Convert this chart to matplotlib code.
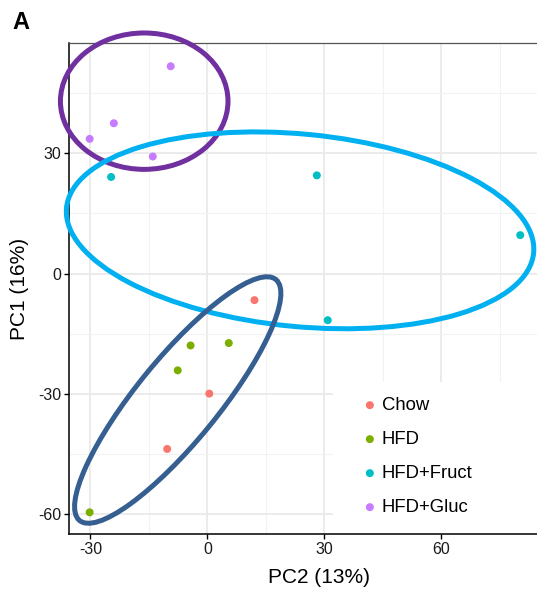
import numpy as np
import matplotlib
matplotlib.use("Agg")
import matplotlib.pyplot as plt
from matplotlib.patches import Ellipse, Rectangle
from matplotlib.ticker import MultipleLocator

plt.rcParams['font.family'] = ['Liberation Sans', 'DejaVu Sans']
plt.rcParams['axes.unicode_minus'] = False

# PCA scores
groups = ['Chow', 'HFD', 'HFD+Fruct', 'HFD+Gluc']
colors = ['#F8766D', '#7CAE00', '#00BFC4', '#C77CFF']

chow_pc2 = [12.1, 0.5, -10.3]
chow_pc1 = [-6.6, -29.9, -43.7]
hfd_pc2 = [-4.3, 5.5, -7.6, -30.2]
hfd_pc1 = [-17.9, -17.3, -24.1, -59.5]
fruct_pc2 = [-24.7, 28.1, 80.3, 30.9]
fruct_pc1 = [24.1, 24.5, 9.6, -11.6]
gluc_pc2 = [-9.4, -24.0, -30.2, -14.0]
gluc_pc1 = [51.7, 37.5, 33.6, 29.2]

# hand drawn cluster ellipses: centre x, centre y, half width, half height, angle
ell_centre_x = [-16.2, 23.8, -7.6]
ell_centre_y = [43.0, 10.8, -31.5]
ell_a = [21.5, 60.2, 39.2]
ell_b = [17.0, 24.0, 10.4]
ell_angle = [0, -5.3, 49.9]
ell_colors = ['#7030A0', '#00B0F0', '#365F91']

xs = [chow_pc2, hfd_pc2, fruct_pc2, gluc_pc2]
ys = [chow_pc1, hfd_pc1, fruct_pc1, gluc_pc1]

fig = plt.figure(figsize=(5.37, 5.94), dpi=100)
ax = fig.add_axes([69/537, 1 - 534/594, 1 - 69/537, (534 - 43)/594])

ax.set_xlim(-35.5, 84.6)
ax.set_ylim(-64.9, 57.5)
ax.xaxis.set_major_locator(MultipleLocator(30))
ax.yaxis.set_major_locator(MultipleLocator(30))
ax.xaxis.set_minor_locator(MultipleLocator(15))
ax.yaxis.set_minor_locator(MultipleLocator(15))
ax.grid(which='major', color='#EBEBEB', lw=1.4, zorder=0)
ax.grid(which='minor', color='#F2F2F2', lw=0.8, zorder=0)
ax.set_axisbelow(True)

ax.tick_params(which='major', direction='out', length=3.5, width=1, color='black',
               labelsize=11.5, labelcolor='#1a1a1a', pad=2)
ax.tick_params(which='minor', length=0)

for s in ['left', 'bottom']:
    ax.spines[s].set_color('black')
    ax.spines[s].set_linewidth(1.1)
ax.spines['top'].set_color('#555555')
ax.spines['top'].set_linewidth(0.9)
ax.spines['right'].set_visible(False)

# white legend background covering the grid
ax.add_patch(Rectangle((0.564, 0), 0.436, 0.3096, transform=ax.transAxes,
                       facecolor='white', edgecolor='none', zorder=1))

handles = []
for g, c, x, y in zip(groups, colors, xs, ys):
    h = ax.scatter(x, y, s=33, color=c, edgecolors='none', label=g, zorder=3)
    handles.append(h)

for cx, cy, a, b, ang, c in zip(ell_centre_x, ell_centre_y, ell_a, ell_b, ell_angle, ell_colors):
    ax.add_patch(Ellipse((cx, cy), 2*a, 2*b, angle=ang, fill=False,
                         edgecolor=c, lw=3.6, zorder=4, clip_on=False))

ax.legend(handles=handles, loc='upper left', bbox_to_anchor=(0.631, 0.279),
          frameon=False, fontsize=13.3, handlelength=0.6, handletextpad=0.35,
          labelspacing=0.92, borderpad=0, borderaxespad=0)

ax.set_xlabel('PC2 (13%)', fontsize=15, va='center', ha='center')
ax.xaxis.set_label_coords(0.534, -0.0876)
ax.set_ylabel('PC1 (16%)', fontsize=15, va='center', ha='center')
ax.yaxis.set_label_coords(-0.105, 0.5)

fig.text(12/537, 1 - 29/594, 'A', fontsize=17, fontweight='bold', va='baseline')

fig.savefig('out.png', dpi=100)
